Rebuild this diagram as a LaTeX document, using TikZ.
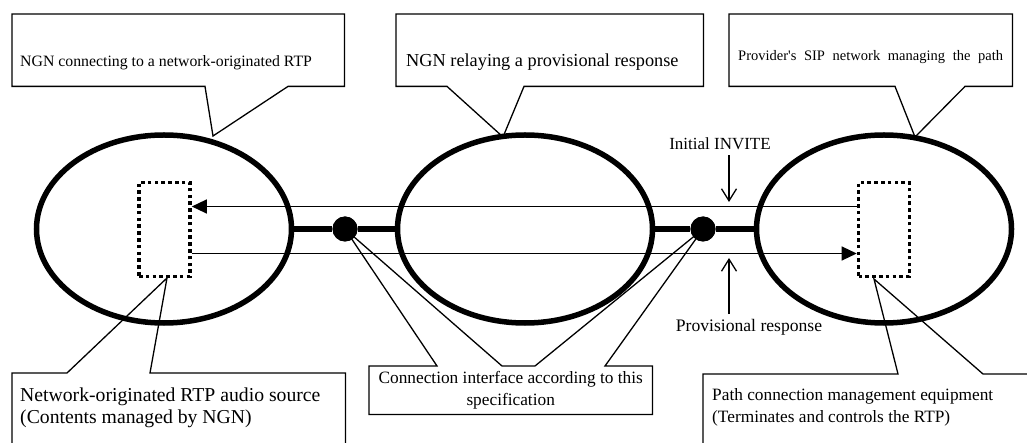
\documentclass[tikz,border=0pt]{standalone}
\usepackage{fontspec}
\setmainfont{Liberation Serif}
\usetikzlibrary{arrows.meta, positioning, shapes.geometric, calc}
\tikzset{
  network/.style={
    ellipse, draw, line width=5.5pt,
    minimum width=255pt, minimum height=188pt
  },
  rtpbox/.style={
    rectangle, draw, line width=3.6pt, dash pattern=on 3.6pt off 3.2pt,
    minimum width=51pt, minimum height=94pt
  },
  iface/.style={circle, fill=black, minimum size=25pt, inner sep=0pt},
  trunk/.style={line width=6pt},
  callout/.style={line width=1.3pt, line join=miter},
  rtpflow/.style={line width=1.3pt, -{Triangle[length=15pt, width=14pt]}},
  msgarrow/.style={line width=1.3pt, -{Straight Barb[length=12pt, width=15pt]}}
}

\begin{document}
\begin{tikzpicture}[
  x=1pt, y=-1pt,
  frame/.style={rectangle, draw=none, inner sep=0pt, anchor=north west},
  note/.style={inner sep=0pt, font=\fontsize{17.3}{22}\selectfont},
  msglabel/.style={inner sep=2pt, outer sep=3pt, font=\fontsize{17}{22}\selectfont}
]
\clip (0,0) rectangle (1027,443);

% networks and the interconnection
\node[network] (lnet) at (164,229) {};
\node[network] (mnet) at (525,229) {};
\node[network] (rnet) at (884,229) {};
\node[iface] (ldot) at (345,229) {};
\node[iface] (rdot) at (703,229) {};
\draw[trunk] (lnet.east) -- (ldot) -- (mnet.west);
\draw[trunk] (mnet.east) -- (rdot) -- (rnet.west);

% RTP source and path management equipment
\node[rtpbox] (lsrc) at (164.5,229.5) {};
\node[rtpbox] (rsrc) at (884,229.5) {};
\draw[rtpflow] ($(rsrc.west)+(0,-23)$) -- ($(lsrc.east)+(0,-23)$);
\draw[rtpflow] ($(lsrc.east)+(0,24)$) -- ($(rsrc.west)+(0,24)$);

% messages
\node[msglabel] (inv) at (720,144) {Initial INVITE};
\coordinate (invtip) at (729,202);
\draw[msgarrow] (inv.south -| invtip) -- (invtip);
\node[msglabel, font=\fontsize{17.6}{22}\selectfont] (prov) at (749,327) {Provisional response};
\coordinate (provtip) at (729,258);
\draw[msgarrow] (prov.north -| provtip) -- (provtip);

% callouts (top)
\node[frame, minimum width=332pt, minimum height=72pt] (b1) at (12,14) {};
\coordinate (tip1) at (213,136);
\draw[callout] ($(b1.south west)+(193,0)$) -- (b1.south west) -- (b1.north west)
  -- (b1.north east) -- (b1.south east) -- ($(b1.south west)+(276,0)$) -- (tip1) -- cycle;
\node[note, anchor=base west, font=\fontsize{15.8}{20}\selectfont] (t1) at (20,67)
  {NGN connecting to a network-originated RTP};

\node[frame, minimum width=307pt, minimum height=72pt] (b2) at (396,14) {};
\coordinate (tip2) at (503,137);
\draw[callout] ($(b2.south west)+(51,0)$) -- (b2.south west) -- (b2.north west)
  -- (b2.north east) -- (b2.south east) -- ($(b2.south west)+(128,0)$) -- (tip2) -- cycle;
\node[note, anchor=base west, font=\fontsize{18.3}{22}\selectfont] (t2) at (406,67)
  {NGN relaying a provisional response};

\node[frame, minimum width=283pt, minimum height=72pt] (b3) at (729,14) {};
\coordinate (tip3) at (915,137);
\draw[callout] ($(b3.south west)+(166,0)$) -- (b3.south west) -- (b3.north west)
  -- (b3.north east) -- (b3.south east) -- ($(b3.south west)+(236,0)$) -- (tip3) -- cycle;
\node[note, anchor=base west, font=\fontsize{14.5}{18}\selectfont] (t3) at (738,61)
  {\makebox[265pt][s]{Provider\textquotesingle s SIP network managing the path}};

% callouts (bottom)
\node[frame, minimum width=333pt, minimum height=80pt] (b4) at (12,373) {};
\coordinate (tip4) at (167,278);
\draw[callout] ($(b4.north west)+(55,0)$) -- (b4.north west) -- (b4.south west)
  -- (b4.south east) -- (b4.north east) -- ($(b4.north west)+(138,0)$) -- (tip4) -- cycle;
\node[note, anchor=west, align=left, font=\fontsize{19.7}{22}\selectfont] (t4) at (20,408)
  {Network-originated RTP audio source\\(Contents managed by NGN)};

\node[frame, minimum width=283pt, minimum height=48pt] (b5) at (369,366) {};
\draw[callout] (b5.north west) -- ($(b5.north west)+(68,0)$) -- (ldot.center)
  -- ($(b5.north west)+(133,0)$) -- ($(b5.north west)+(166,0)$) -- (rdot.center)
  -- ($(b5.north west)+(236,0)$) -- (b5.north east) -- (b5.south east)
  -- (b5.south west) -- cycle;
\node[note, align=center] (t5) at (b5.center)
  {Connection interface according to this\\specification};

\node[frame, minimum width=337pt, minimum height=80pt] (b6) at (703,374) {};
\coordinate (tip6) at (874,279);
\draw[callout] ($(b6.north west)+(195,0)$) -- (b6.north west) -- (b6.south west)
  -- (b6.south east) -- (b6.north east) -- ($(b6.north west)+(280,0)$) -- (tip6) -- cycle;
\node[note, anchor=west, align=left] (t6) at (712,407)
  {Path connection management equipment\\(Terminates and controls the RTP)};

% interface points on top
\node[iface] at (ldot) {};
\node[iface] at (rdot) {};

\end{tikzpicture}
\end{document}
